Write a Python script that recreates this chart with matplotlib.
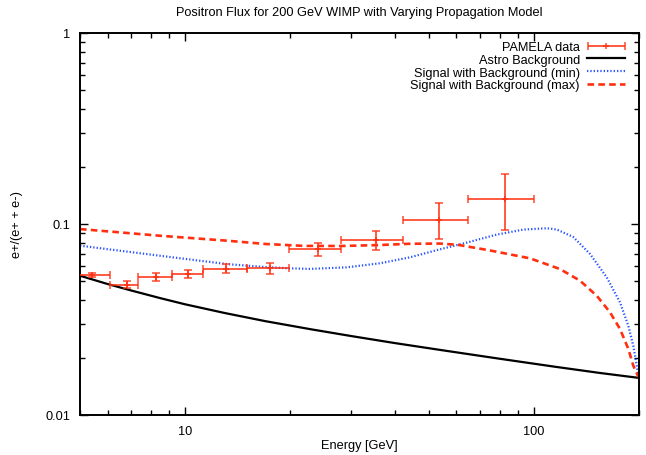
import matplotlib
matplotlib.use("Agg")
import matplotlib.pyplot as plt
from matplotlib.ticker import LogLocator, NullFormatter, FixedLocator, FixedFormatter
from matplotlib.legend_handler import HandlerErrorbar
import numpy as np

plt.rcParams['font.family'] = ['Liberation Sans', 'DejaVu Sans']

# PAMELA data
pam_E = [5.42, 6.81, 8.26, 10.18, 13.12, 17.54, 24.13, 35.26, 53.58, 82.7]
pam_E_lo = [4.9, 6.10, 7.35, 9.16, 11.24, 15.05, 19.92, 27.97, 42.30, 65.0]
pam_E_hi = [6.10, 7.35, 9.16, 11.24, 15.05, 19.92, 27.97, 42.30, 65.0, 100.5]
pam_f = [0.0543, 0.0479, 0.0526, 0.0547, 0.0581, 0.0586, 0.0740, 0.0828, 0.1053, 0.1357]
pam_f_lo = [0.0530, 0.0460, 0.0505, 0.0522, 0.0552, 0.0545, 0.0683, 0.0734, 0.0832, 0.0934]
pam_f_hi = [0.0556, 0.0501, 0.0552, 0.0574, 0.0617, 0.0625, 0.0795, 0.0916, 0.1284, 0.1834]

# Astro background
bg_E = [5.0, 6.0, 7.0, 8.5, 10.0, 13.0, 17.0, 23.0, 30.0, 40.0, 55.0, 80.0, 115.0, 155.0, 200.0]
bg_f = [0.0536, 0.0485, 0.0449, 0.0409, 0.0380, 0.0342, 0.0310, 0.0281, 0.0259, 0.0238,
        0.0218, 0.0197, 0.0179, 0.0166, 0.01565]

# Signal with background (min)
min_E = [5.0, 8.48, 13.18, 17.0, 20.0, 22.84, 29.1, 36.3, 44.2, 53.9, 62.8, 78.4, 93.5,
         109.1, 116.5, 130.0, 145.2, 162.1, 177.0, 187.0, 193.3, 197.7, 200.0]
min_f = [0.0770, 0.0682, 0.0617, 0.0595, 0.0586, 0.0582, 0.0593, 0.0623, 0.0669, 0.0737, 0.0790,
         0.0880, 0.0935, 0.0950, 0.0936, 0.0855, 0.0697, 0.0526, 0.0389, 0.0293, 0.0230,
         0.0181, 0.0158]

# Signal with background (max)
max_E = [5.0, 8.48, 13.18, 17.0, 22.0, 28.0, 36.3, 44.2, 53.9, 60.7, 75.0, 97.7, 119.1, 135.9,
         151.8, 165.7, 177.0, 187.0, 193.3, 200.0]
max_f = [0.0941, 0.0868, 0.0818, 0.0786, 0.0768, 0.0767, 0.0776, 0.0788, 0.0790, 0.0778, 0.0727,
         0.0661, 0.0581, 0.0505, 0.0421, 0.0345, 0.0282, 0.0222, 0.0181, 0.0158]

red = '#ff2f10'
blue = '#2a55ff'
fs = 9.2

fig = plt.figure(figsize=(6.46, 4.56), dpi=100)
ax = fig.add_axes([80/646, 40/456, 558.5/646, 382/456])

ax.errorbar(pam_E, pam_f,
            xerr=[np.array(pam_E) - np.array(pam_E_lo), np.array(pam_E_hi) - np.array(pam_E)],
            yerr=[np.array(pam_f) - np.array(pam_f_lo), np.array(pam_f_hi) - np.array(pam_f)],
            fmt='+', color=red, ecolor=red, elinewidth=1.4, capsize=3, capthick=1.2,
            ms=5, mew=1.2, alpha=0.8, zorder=3)
# legend proxy for the data (horizontal bar with caps, as in the reference key)
pam_proxy = ax.errorbar([np.nan], [np.nan], xerr=[1.0], fmt='+', color=red, ecolor=red,
                        elinewidth=1.4, capsize=3, capthick=1.2, ms=5, mew=1.2, alpha=0.8)
l_bg, = ax.plot(bg_E, bg_f, color='black', lw=1.6)
l_min, = ax.plot(min_E, min_f, color=blue, lw=1.6, ls=(0, (0.6, 0.9)))
l_max, = ax.plot(max_E, max_f, color=red, lw=1.9, ls=(0, (2.5, 1.6)))

ax.set_xscale('log')
ax.set_yscale('log')
ax.set_xlim(5, 200)
ax.set_ylim(0.01, 1)

ax.xaxis.set_major_locator(FixedLocator([10, 100]))
ax.xaxis.set_major_formatter(FixedFormatter(['10', '100']))
ax.xaxis.set_minor_locator(LogLocator(base=10, subs=np.arange(2, 10)))
ax.xaxis.set_minor_formatter(NullFormatter())
ax.yaxis.set_major_locator(FixedLocator([0.01, 0.1, 1]))
ax.yaxis.set_major_formatter(FixedFormatter(['0.01', '0.1', '1']))
ax.yaxis.set_minor_locator(LogLocator(base=10, subs=np.arange(2, 10)))
ax.yaxis.set_minor_formatter(NullFormatter())

ax.tick_params(which='both', direction='in', top=True, right=True, labelsize=fs)
ax.tick_params(axis='x', pad=7)
ax.tick_params(axis='y', pad=7)
ax.tick_params(which='major', length=6, width=1)
ax.tick_params(which='minor', length=3.5, width=1)
for s in ax.spines.values():
    s.set_linewidth(1.4)

ax.set_title('Positron Flux for 200 GeV WIMP with Varying Propagation Model', fontsize=fs, pad=13)
ax.set_xlabel('Energy [GeV]', fontsize=fs, labelpad=1.5)
ax.set_ylabel('e+/(e+ + e-)', fontsize=fs, labelpad=16)

leg = ax.legend([pam_proxy, l_bg, l_min, l_max],
                ['PAMELA data', 'Astro Background', 'Signal with Background (min)',
                 'Signal with Background (max)'],
                handler_map={type(pam_proxy): HandlerErrorbar(xerr_size=1.45)},
                loc='upper right', bbox_to_anchor=(1 - 5/558.5, 1.0),
                frameon=False, markerfirst=False, fontsize=fs,
                handlelength=3.0, labelspacing=0.05, borderaxespad=0.25, handletextpad=0.55)
for t in leg.get_texts():
    t.set_ha('right')

fig.savefig('out.png', dpi=100)
